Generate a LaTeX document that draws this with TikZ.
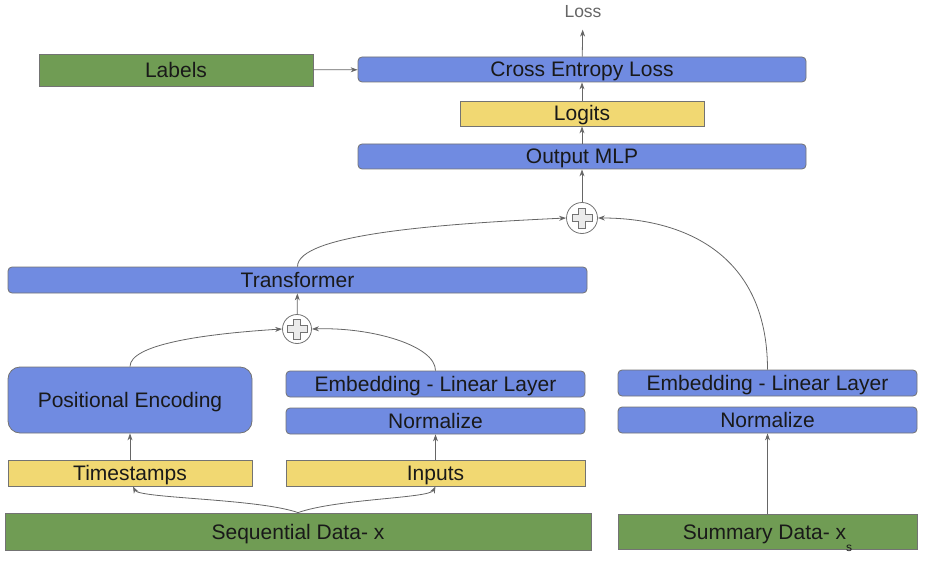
\documentclass[tikz,border=0pt]{standalone}
\usepackage{fontspec}
\setmainfont{Liberation Sans}
\usetikzlibrary{arrows.meta}
\definecolor{boxblue}{RGB}{112,139,225}
\definecolor{boxyellow}{RGB}{241,216,114}
\definecolor{boxgreen}{RGB}{112,156,84}
\tikzset{
  box/.style={draw=black!55, line width=0.8pt, text=black!90, inner sep=0pt,
    font=\fontsize{21}{24}\selectfont, text height=15pt, text depth=0pt},
  bluebox/.style={box, fill=boxblue, rounded corners=4pt},
  yellowbox/.style={box, fill=boxyellow},
  greenbox/.style={box, fill=boxgreen},
  arr/.style={draw=black!60, line width=0.8pt, -{Stealth[length=7pt,width=5pt]}},
  adder/.style={circle, draw=black!55, fill=white, line width=0.8pt, minimum size=29pt, inner sep=0pt},
  crossline/.style={draw=black!55, fill=black!8, line width=0.7pt},
}
\begin{document}
\begin{tikzpicture}[x=1pt,y=-1pt]
\useasboundingbox (0,0) rectangle (928,572);

\node[greenbox, minimum width=274pt, minimum height=32pt] (labels) at (176,70) {Labels};
\node[bluebox, minimum width=448pt, minimum height=25pt] (ce) at (582,69.5) {Cross Entropy Loss};
\node[text=black!60, font=\fontsize{17.5}{20}\selectfont] (loss) at (583,12) {Loss};
\node[yellowbox, minimum width=244pt, minimum height=25pt] (logits) at (582,113.5) {Logits};
\node[bluebox, minimum width=448pt, minimum height=25pt] (mlp) at (582,156.5) {Output MLP};
\node[adder, minimum size=31pt] (p2) at (582,218) {};
\node[bluebox, minimum width=579pt, minimum height=26pt] (trans) at (297.5,280) {Transformer};
\node[adder] (p1) at (297,329) {};
\node[bluebox, rounded corners=12pt, minimum width=244pt, minimum height=66pt] (pe) at (130,400) {Positional Encoding};
\node[bluebox, minimum width=299pt, minimum height=26pt] (embl) at (435.5,384) {Embedding - Linear Layer};
\node[bluebox, minimum width=299pt, minimum height=26pt] (norml) at (435.5,421) {Normalize};
\node[yellowbox, minimum width=244pt, minimum height=26pt] (time) at (130,473) {Timestamps};
\node[yellowbox, minimum width=299pt, minimum height=26pt] (inp) at (435.5,473) {Inputs};
\node[greenbox, minimum width=586pt, minimum height=37pt] (seq) at (298,531.5) {Sequential Data- x};
\node[bluebox, minimum width=299pt, minimum height=26pt] (embr) at (767.5,383) {Embedding - Linear Layer};
\node[bluebox, minimum width=299pt, minimum height=26pt] (normr) at (767.5,420) {Normalize};
\node[greenbox, minimum width=299pt, minimum height=35pt] (summ) at (767.5,531.5)
  {Summary Data- x\raisebox{-1.1ex}{\fontsize{12}{12}\selectfont s}};

\foreach \p in {p1,p2}
  \draw[crossline] (\p) ++(-3.5,-10) -- ++(7,0) -- ++(0,6.5) -- ++(6.5,0) -- ++(0,7)
    -- ++(-6.5,0) -- ++(0,6.5) -- ++(-7,0) -- ++(0,-6.5) -- ++(-6.5,0) -- ++(0,-7)
    -- ++(6.5,0) -- cycle;

\draw[arr] (labels) -- (ce);
\draw[arr, shorten >=8pt] (ce) -- (loss);
\draw[arr] (logits) -- (ce);
\draw[arr] (mlp) -- (logits);
\draw[arr] (p2) -- (mlp);
\draw[arr] (trans.north) .. controls +(0,-32) and +(-130,6) .. (p2.west);
\draw[arr] (embr.north) .. controls +(0,-120) and +(80,0) .. (p2.east);
\draw[arr] (p1) -- (trans);
\draw[arr] (pe.north) .. controls +(0,-22) and +(-80,5) .. (p1.west);
\draw[arr] (embl.north) .. controls +(0,-25) and +(60,-2) .. (p1.east);
\draw[arr] (time) -- (pe);
\draw[arr] (inp) -- (norml);
\draw[arr] (summ) -- (normr);
\draw[arr] (seq.north) .. controls +(-40,-14) and +(6,12) .. ([xshift=3pt]time.south);
\draw[arr] (seq.north) .. controls +(40,-14) and +(-6,12) .. (inp.south);

\end{tikzpicture}
\end{document}
